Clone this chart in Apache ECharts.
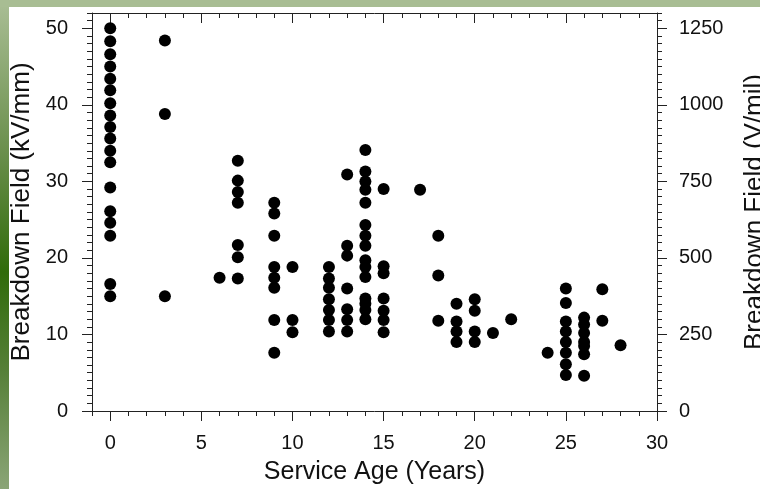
<!DOCTYPE html>
<html>
<head>
<meta charset="utf-8">
<script src="https://cdn.jsdelivr.net/npm/echarts@6/dist/echarts.min.js"></script>
<style>
  body { margin: 0; background: #fff; }
  #wrap { position: relative; width: 760px; height: 489px; overflow: hidden; background: #fff; }
  #topband { position: absolute; left: 0; top: 0; width: 760px; height: 7px; background: #a8bd93; }
  #leftband {
    position: absolute; left: 0; top: 7px; width: 9px; height: 482px;
    background: linear-gradient(#a7bc92 0%, #6a8f4c 30%, #306b0a 55%, #557f37 75%, #8ba577 100%);
  }
  #chart { position: absolute; left: 0; top: 0; width: 760px; height: 489px; }
</style>
</head>
<body>
<div id="wrap">
  <div id="topband"></div>
  <div id="leftband"></div>
  <div id="chart"></div>
</div>
<script>
// service age (years) and the breakdown fields measured at that age (kV/mm)
const serviceAges = [0, 3, 6, 7, 9, 10, 12, 13, 14, 15, 17, 18, 19, 20, 21, 22, 24, 25, 26, 27, 28];
const breakdownKvMm = [
  [50.0, 48.3, 46.6, 45.0, 43.4, 41.9, 40.2, 38.6, 37.1, 35.6, 34.0, 32.5, 29.2, 26.1, 24.6, 22.9, 16.6, 15.0],
  [48.4, 38.8, 15.0],
  [17.4],
  [32.7, 30.1, 28.6, 27.2, 21.7, 20.1, 17.3],
  [27.2, 25.8, 22.9, 18.8, 17.4, 16.1, 11.9, 7.6],
  [18.8, 11.9, 10.3],
  [18.8, 17.3, 16.1, 14.6, 13.2, 11.9, 10.4],
  [30.9, 21.6, 20.3, 16.0, 13.3, 11.9, 10.4],
  [34.1, 31.3, 30.0, 28.9, 27.2, 24.3, 22.9, 21.6, 19.7, 18.8, 17.5, 14.7, 14.0, 13.2, 12.0],
  [29.0, 18.9, 18.0, 14.7, 13.1, 11.9, 10.3],
  [28.9],
  [22.9, 17.7, 11.8],
  [14.0, 11.7, 10.4, 9.0],
  [14.6, 13.1, 10.4, 9.0],
  [10.2],
  [12.0],
  [7.6],
  [16.0, 14.1, 11.7, 10.4, 9.0, 7.6, 6.1, 4.7],
  [12.2, 11.3, 10.2, 9.0, 8.5, 7.4, 4.6],
  [15.9, 11.8],
  [8.6]
];
const xTicks = [0, 5, 10, 15, 20, 25, 30];
const kvTicks = [0, 10, 20, 30, 40, 50];
const vmilTicks = [0, 250, 500, 750, 1000, 1250];

const points = [];
serviceAges.forEach((age, i) => {
  breakdownKvMm[i].forEach((v) => points.push([age, v]));
});

const font = '"Liberation Sans", Arial, Helvetica, sans-serif';
const ink = '#111';
const line = { show: true, onZero: false, lineStyle: { color: '#222', width: 1 } };
const noLine = { show: false, onZero: false };
const plain = (v) => String(v);

const chart = echarts.init(document.getElementById('chart'));
chart.setOption({
  animation: false,
  backgroundColor: 'transparent',
  textStyle: { fontFamily: font },
  grid: { left: 92, right: 103, top: 13, bottom: 78, containLabel: false, outerBoundsMode: 'none' },
  xAxis: [
    {
      type: 'value', position: 'bottom', min: -1, max: 30, interval: 1,
      axisLine: line, splitLine: { show: false },
      axisTick: { show: true, inside: false, length: 5, lineStyle: { color: '#222' } },
      axisLabel: { customValues: xTicks, formatter: plain, fontSize: 20, color: ink, margin: 22, fontFamily: font },
      name: 'Service Age (Years)', nameLocation: 'middle', nameGap: 49,
      nameTextStyle: { fontSize: 25, color: ink, fontFamily: font }
    },
    {
      type: 'value', position: 'bottom', min: -1, max: 30,
      axisLine: noLine, splitLine: { show: false },
      axisTick: { show: true, customValues: xTicks, length: 10, lineStyle: { color: '#222' } },
      axisLabel: { show: false }
    },
    {
      type: 'value', position: 'top', min: -1, max: 30, interval: 1,
      axisLine: line, splitLine: { show: false },
      axisTick: { show: true, inside: true, length: 5, lineStyle: { color: '#222' } },
      axisLabel: { show: false }
    },
    {
      type: 'value', position: 'top', min: -1, max: 30,
      axisLine: noLine, splitLine: { show: false },
      axisTick: { show: true, inside: true, customValues: xTicks, length: 10, lineStyle: { color: '#222' } },
      axisLabel: { show: false }
    }
  ],
  yAxis: [
    {
      type: 'value', position: 'left', min: 0, max: 52, interval: 1,
      axisLine: line, splitLine: { show: false },
      axisTick: { show: true, length: 5, lineStyle: { color: '#222' } },
      axisLabel: { customValues: kvTicks, formatter: plain, fontSize: 20, color: ink, margin: 24, fontFamily: font },
      name: 'Breakdown Field (kV/mm)', nameLocation: 'middle', nameGap: 57,
      nameTextStyle: { fontSize: 26, color: ink, fontFamily: font }
    },
    {
      type: 'value', position: 'left', min: 0, max: 52,
      axisLine: noLine, splitLine: { show: false },
      axisTick: { show: true, customValues: kvTicks, length: 10, lineStyle: { color: '#222' } },
      axisLabel: { show: false }
    },
    {
      type: 'value', position: 'right', min: 0, max: 1300, interval: 25,
      axisLine: line, splitLine: { show: false },
      axisTick: { show: true, length: 5, lineStyle: { color: '#222' } },
      axisLabel: { customValues: vmilTicks, formatter: plain, fontSize: 20, color: ink, margin: 22, fontFamily: font },
      name: 'Breakdown Field (V/mil)', nameLocation: 'middle', nameGap: 85,
      nameTextStyle: { fontSize: 26, color: ink, fontFamily: font }
    },
    {
      type: 'value', position: 'right', min: 0, max: 1300,
      axisLine: noLine, splitLine: { show: false },
      axisTick: { show: true, customValues: vmilTicks, length: 10, lineStyle: { color: '#222' } },
      axisLabel: { show: false }
    }
  ],
  series: [
    {
      type: 'scatter',
      xAxisIndex: 0,
      yAxisIndex: 0,
      symbol: 'circle',
      symbolSize: 12,
      itemStyle: { color: '#000', opacity: 1 },
      data: points
    }
  ]
});
</script>
</body>
</html>
